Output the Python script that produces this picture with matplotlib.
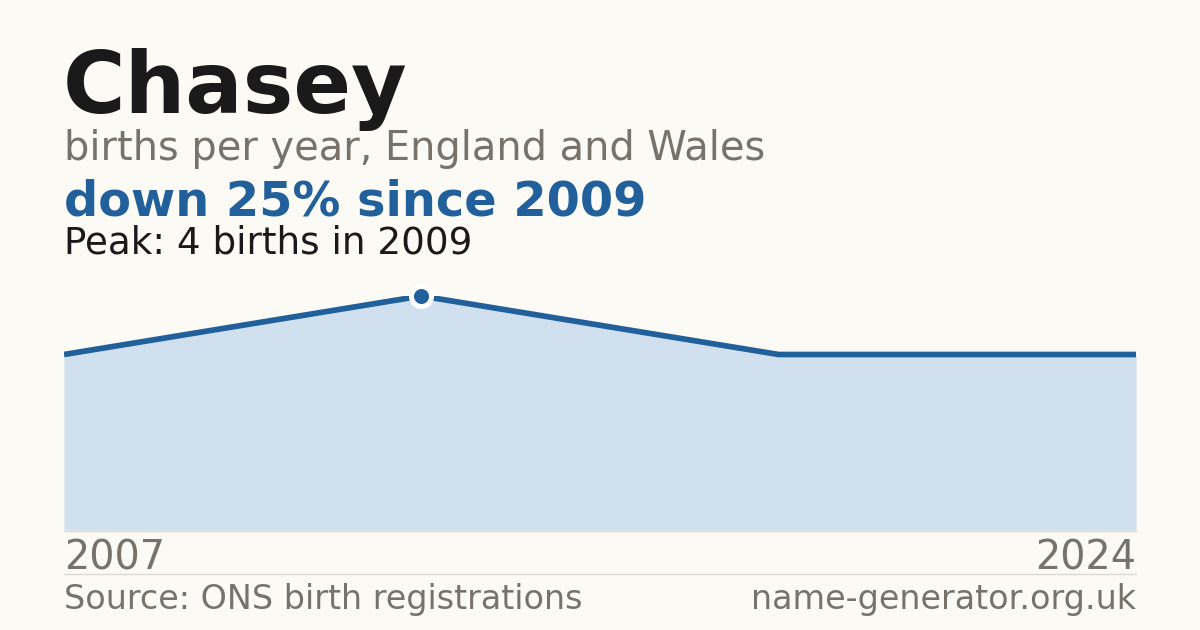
import numpy as np
import matplotlib
matplotlib.use("Agg")
import matplotlib.pyplot as plt

# data (points are evenly spaced, not by year)
years = [2007, 2009, 2016, 2024]
births = [3, 4, 3, 3]
peak_year = 2009
peak_value = 4
change_pct = -25

bg = '#fbfaf5'
blue = '#21609a'
fill = '#d0e0ef'
grey = '#77736b'
dark = '#1a1a1a'

W, H = 1200, 630
fig = plt.figure(figsize=(12, 6.3), dpi=100, facecolor=bg)

def px(x, y):
    return x / W, 1 - y / H

ax = fig.add_axes([64 / W, (H - 530) / H, 1072 / W, 234 / H])
ax.set_facecolor(bg)
xs = np.arange(len(years))
ax.fill_between(xs, births, 0, color=fill, lw=0)
ax.plot(xs, births, color=blue, lw=4.1, solid_capstyle='butt', solid_joinstyle='miter')
ip = years.index(peak_year)
ax.plot(xs[ip], births[ip], 'o', ms=14.4, color=blue, mec='white', mew=3.6, clip_on=False, zorder=5)
ax.set_xlim(0, len(years) - 1)
ax.set_ylim(0, peak_value)
ax.axis('off')

# baseline and footer rule
fig.add_artist(plt.Line2D([64 / W, 1136 / W], [(H - 530.5) / H] * 2, color='#dddad2', lw=1))
fig.add_artist(plt.Line2D([64 / W, 1136 / W], [(H - 574) / H] * 2, color='#dddad2', lw=1))

fig.text(*px(63, 113), 'Chasey', fontsize=61.4, fontweight='bold', color=dark, va='baseline')
fig.text(*px(64, 160), 'births per year, England and Wales', fontsize=28.7, color=grey, va='baseline')
fig.text(*px(64, 215), f'down {abs(change_pct)}% since {peak_year}', fontsize=34.5, fontweight='bold', color=blue, va='baseline')
fig.text(*px(64, 254), f'Peak: {peak_value} births in {peak_year}', fontsize=26.8, color=dark, va='baseline')

fig.text(*px(64, 570), str(years[0]), fontsize=28.6, color=grey, va='baseline')
fig.text(*px(1136, 570), str(years[-1]), fontsize=28.6, color=grey, va='baseline', ha='right')

fig.text(*px(64, 609), 'Source: ONS birth registrations', fontsize=24, color=grey, va='baseline')
fig.text(*px(1136, 609), 'name-generator.org.uk', fontsize=24, color=grey, va='baseline', ha='right')

fig.savefig('out.png', dpi=100, facecolor=bg)
